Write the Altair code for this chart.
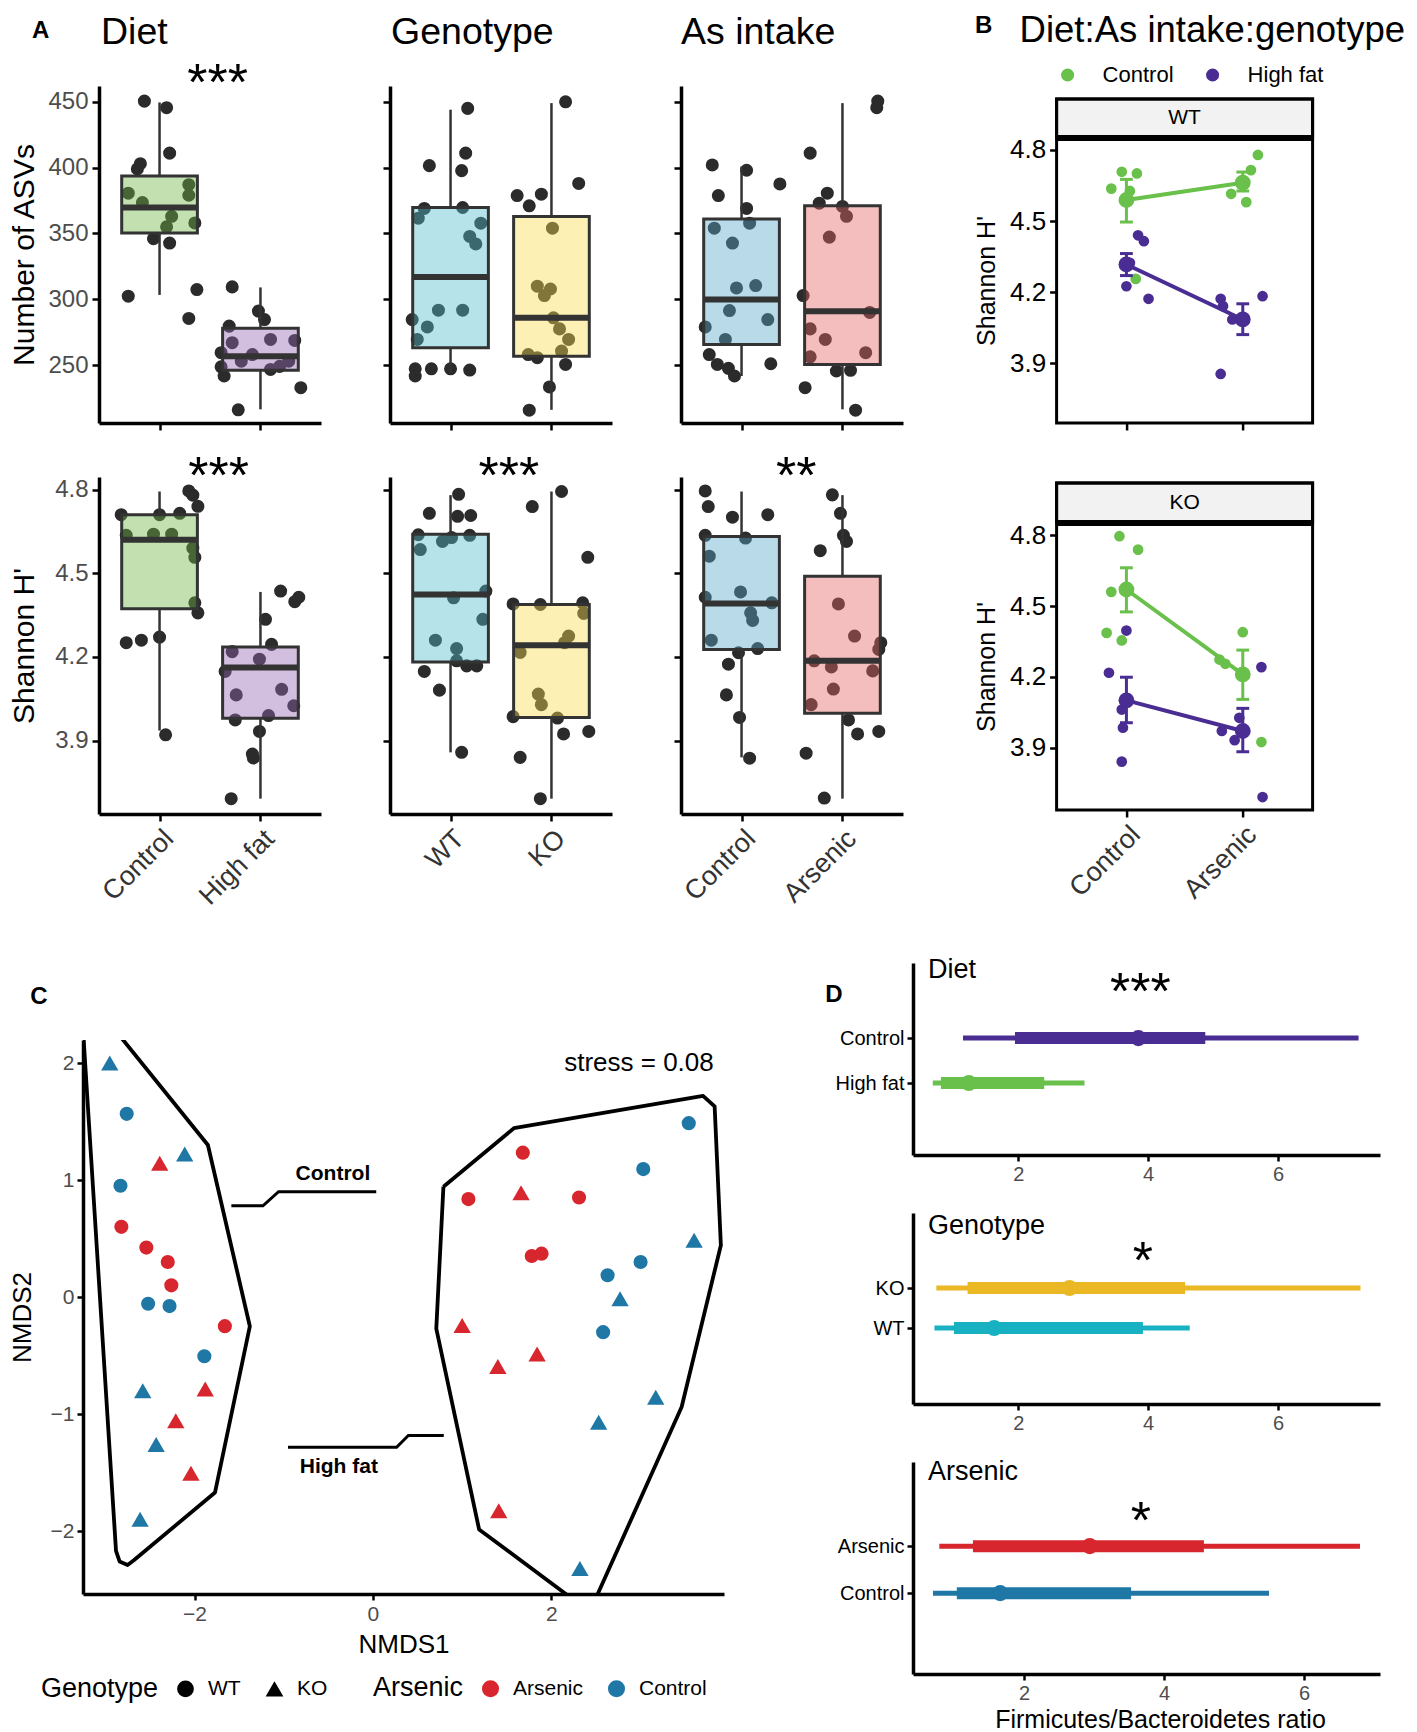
import altair as alt
import pandas as pd

FONT = "Liberation Sans"
GREY_TXT = "#4d4d4d"
DARK = "#333333"
PT_COL = "#2b2b2b"
GREEN = "#69c04a"
PURPLE = "#4a2d92"
RED = "#d7262d"
BLUE = "#1f77a6"
YELLOW = "#e9b824"
CYAN = "#17b1c1"

# ================= Panel A : Number of ASVs =================
asv_diet_ctrl_jit = [-0.15, 0.07, 0.10, -0.19, -0.22, -0.31, -0.17, 0.29, 0.29, 0.12, 0.07, 0.35, -0.06, 0.10, -0.31, 0.37, 0.29]
asv_diet_ctrl = [450.5, 445.5, 411, 403, 399, 380.6, 373.5, 387, 379, 363, 355, 358, 346, 342.7, 302.3, 307.4, 285.4]
asv_diet_hf_jit = [-0.28, -0.02, 0.04, -0.31, 0.10, 0.34, -0.28, -0.08, -0.39, -0.19, 0.10, -0.39, -0.36, 0.19, 0.40, -0.22, 0.28]
asv_diet_hf = [309.4, 291, 284.6, 279.6, 269.5, 268.7, 267, 258, 259.4, 253, 246.7, 248.7, 241.7, 249, 232.8, 216, 253]
asv_diet_box = [[350.3, 369.7, 393.7, 303.3, 449.5], [246.0, 256.8, 278.0, 216.4, 309.0]]  # q1, median, q3, low, high

asv_geno_wt_jit = [0.17, 0.15, -0.21, 0.11, -0.26, 0.12, -0.32, 0.30, 0.19, 0.25, -0.12, 0.12, -0.23, -0.38, -0.33, -0.35, -0.19, 0.00, 0.19, -0.35]
asv_geno_wt = [445, 411, 401.5, 397.7, 369, 369.7, 361.6, 357.8, 347.7, 342, 291.7, 291.7, 279, 284.6, 269.5, 247.2, 247.2, 247.2, 246.2, 241.7]
asv_geno_ko_jit = [0.14, 0.27, -0.34, -0.10, -0.22, 0.01, -0.14, -0.01, -0.07, 0.02, 0.08, 0.17, -0.23, 0.10, -0.14, 0.14, -0.02, -0.22]
asv_geno_ko = [450, 388, 378.8, 379.8, 371, 354, 309.9, 307.8, 302.8, 285.9, 277.5, 269.5, 258, 260.6, 255.6, 250.5, 233.4, 215.7]
asv_geno_box = [[263.1, 316.9, 369.7, 244.0, 444.0], [256.8, 285.9, 362.9, 216.0, 449.0]]

asv_as_ctrl_jit = [-0.29, 0.05, 0.38, -0.23, 0.05, 0.08, -0.27, -0.09, -0.05, 0.14, -0.12, 0.26, -0.36, -0.16, -0.32, -0.24, -0.13, -0.07, 0.29]
asv_as_ctrl = [402, 398, 387.6, 378.8, 369, 357.8, 354, 342.7, 308.6, 310.4, 291.4, 284.6, 279, 269.5, 258, 250.5, 247.5, 241.7, 251]
asv_as_ars_jit = [0.35, 0.34, -0.32, -0.15, -0.23, 0.00, 0.04, -0.13, -0.39, 0.27, -0.32, -0.17, 0.23, -0.32, -0.06, 0.08, -0.37, 0.13]
asv_as_ars = [450.5, 445.5, 411, 380.6, 373, 370.5, 363, 347.2, 302.8, 290, 277.5, 269.5, 259.4, 256.3, 245.5, 246, 232.8, 215.7]
asv_as_box = [[265.7, 299.8, 361.0, 241.7, 400.8], [250.5, 290.9, 371.0, 216.4, 449.0]]

# ================= Panel A : Shannon H' =================
sh_diet_ctrl_jit = [0.29, 0.33, 0.38, -0.38, 0.00, 0.20, -0.33, -0.06, 0.12, 0.33, 0.35, 0.35, 0.38, -0.33, -0.18, 0.00, 0.06]
sh_diet_ctrl = [4.795, 4.78, 4.74, 4.71, 4.71, 4.715, 4.636, 4.64, 4.64, 4.59, 4.557, 4.394, 4.358, 4.251, 4.26, 4.271, 3.921]
sh_diet_hf_jit = [0.20, 0.34, 0.38, 0.05, 0.11, -0.28, -0.01, -0.35, -0.24, 0.21, 0.33, -0.25, 0.08, -0.01, -0.08, -0.07, -0.29]
sh_diet_hf = [4.436, 4.398, 4.414, 4.335, 4.245, 4.219, 4.192, 4.148, 4.064, 4.084, 4.025, 3.974, 3.99, 3.933, 3.852, 3.838, 3.692]
sh_diet_box = [[4.373, 4.62, 4.71, 3.936, 4.793], [3.98, 4.162, 4.236, 3.692, 4.433]]

sh_geno_wt_jit = [0.08, -0.21, 0.07, 0.20, -0.32, -0.08, 0.01, 0.19, -0.30, 0.35, 0.03, 0.32, -0.15, 0.06, 0.06, 0.16, 0.26, -0.26, -0.11, 0.11]
sh_geno_wt = [4.783, 4.715, 4.704, 4.707, 4.638, 4.614, 4.628, 4.636, 4.585, 4.436, 4.412, 4.335, 4.26, 4.23, 4.186, 4.168, 4.168, 4.148, 4.081, 3.858]
sh_geno_ko_jit = [0.10, -0.19, 0.36, -0.38, -0.11, 0.31, 0.32, 0.17, 0.13, -0.31, -0.13, -0.10, -0.38, 0.06, 0.12, 0.37, -0.31, -0.11]
sh_geno_ko = [4.793, 4.739, 4.557, 4.39, 4.388, 4.394, 4.356, 4.275, 4.251, 4.216, 4.067, 4.029, 3.986, 3.981, 3.924, 3.933, 3.84, 3.692]
sh_geno_box = [[4.182, 4.424, 4.64, 3.858, 4.78], [3.983, 4.242, 4.388, 3.692, 4.793]]

sh_as_ctrl_jit = [-0.36, -0.33, -0.09, 0.26, -0.36, 0.04, -0.32, -0.36, -0.01, 0.30, 0.09, 0.11, -0.30, -0.03, 0.16, -0.13, -0.15, -0.02, 0.08]
sh_as_ctrl = [4.795, 4.739, 4.701, 4.71, 4.636, 4.626, 4.561, 4.414, 4.433, 4.394, 4.358, 4.331, 4.26, 4.215, 4.23, 4.174, 4.064, 3.983, 3.837]
sh_as_ars_jit = [-0.10, -0.02, 0.01, 0.04, -0.22, -0.04, 0.12, 0.38, 0.36, -0.28, -0.11, 0.30, -0.09, -0.31, 0.06, 0.15, 0.36, -0.36, -0.18]
sh_as_ars = [4.781, 4.715, 4.636, 4.614, 4.581, 4.39, 4.275, 4.251, 4.227, 4.186, 4.164, 4.15, 4.085, 4.029, 3.974, 3.924, 3.933, 3.855, 3.694]
sh_as_box = [[4.227, 4.392, 4.632, 3.84, 4.793], [3.998, 4.186, 4.489, 3.692, 4.78]]

# ================= Panel B =================
b_wt_diet = ["Control"] * 10 + ["High fat"] * 11
b_wt_cond = [1, 1, 1, 1, 1, 2, 2, 2, 2, 2, 1, 1, 1, 1, 1, 2, 2, 2, 2, 2, 2]
b_wt_jit = [-0.13, -0.04, 0.09, 0.03, 0.08, 0.13, 0.07, -0.10, 0.03, -0.01,
            0.10, 0.15, 0.00, 0.19, 0.03, -0.19, -0.17, 0.17, -0.09, 0.01, -0.19]
b_wt_val = [4.637, 4.708, 4.701, 4.627, 4.256, 4.779, 4.715, 4.615, 4.58, 4.662,
            4.44, 4.415, 4.225, 4.172, 4.324, 4.172, 4.141, 4.183, 4.085, 4.085, 3.855]
b_wt_mean_ctrl = [4.589, 4.662]
b_wt_lo_ctrl = [4.496, 4.627]
b_wt_hi_ctrl = [4.676, 4.707]
b_wt_mean_hf = [4.317, 4.085]
b_wt_lo_hf = [4.27, 4.021]
b_wt_hi_hf = [4.363, 4.151]

b_ko_diet = ["Control"] * 11 + ["High fat"] * 12
b_ko_cond = [1] * 6 + [2] * 5 + [1] * 6 + [2] * 6
b_ko_jit = [-0.06, 0.10, -0.13, 0.00, -0.17, -0.04, 0.00, -0.20, -0.15, 0.01, 0.16,
            0.00, -0.15, -0.04, 0.01, -0.03, -0.04, 0.16, -0.03, -0.18, 0.01, -0.07, 0.17]
b_ko_val = [4.796, 4.739, 4.56, 4.567, 4.386, 4.354, 4.389, 4.273, 4.255, 4.21, 3.923,
            4.396, 4.217, 4.061, 4.1, 3.984, 3.84, 4.241, 4.026, 3.97, 3.97, 3.931, 3.69]
b_ko_mean_ctrl = [4.57, 4.21]
b_ko_lo_ctrl = [4.475, 4.104]
b_ko_hi_ctrl = [4.662, 4.313]
b_ko_mean_hf = [4.1, 3.97]
b_ko_lo_hf = [4.005, 3.882]
b_ko_hi_hf = [4.198, 4.066]

# ================= Panel C (NMDS) =================
nmds1 = [-2.95, -2.76, -2.39, -2.11, -2.83, -2.82, -2.54, -2.30, -2.26, -2.52, -2.28, -1.66, -1.89, -2.58, -1.88,
         -2.21, -2.43, -2.04, -2.61,
         1.68, 3.54, 3.03, 1.07, 1.66, 2.31, 3.60, 1.78, 1.89, 3.00, 2.63, 2.77, 1.00, 2.58, 1.84, 1.40, 3.17,
         2.53, 1.41, 2.32]
nmds2 = [2.0, 1.566, 1.143, 1.223, 0.951, 0.6, 0.423, 0.3, 0.1, -0.057, -0.077, -0.249, -0.506, -0.8, -0.786,
         -1.057, -1.26, -1.507, -1.9,
         1.234, 1.486, 1.094, 0.837, 0.891, 0.851, 0.486, 0.351, 0.371, 0.3, 0.186, -0.014, -0.243, -0.3, -0.486,
         -0.594, -0.857, -1.071, -1.826, -2.32]
nmds_geno = ["KO", "WT", "KO", "KO", "WT", "WT", "WT", "WT", "WT", "WT", "WT", "WT", "WT", "KO", "KO",
             "KO", "KO", "KO", "KO",
             "WT", "WT", "WT", "WT", "KO", "WT", "KO", "WT", "WT", "WT", "WT", "KO", "KO", "WT", "KO", "KO", "KO",
             "KO", "KO", "KO"]
nmds_ars = ["Control", "Control", "Arsenic", "Control", "Control", "Arsenic", "Arsenic", "Arsenic", "Arsenic",
            "Control", "Control", "Arsenic", "Control", "Control", "Arsenic", "Arsenic", "Control", "Arsenic",
            "Control",
            "Arsenic", "Control", "Control", "Arsenic", "Arsenic", "Arsenic", "Control", "Arsenic", "Arsenic",
            "Control", "Control", "Control", "Arsenic", "Control", "Arsenic", "Arsenic", "Control", "Control",
            "Arsenic", "Control"]
hull_ctrl_x = [-3.28, -2.88, -2.84, -2.75, -2.68, -1.77, -1.38, -1.85, -3.28]
hull_ctrl_y = [2.65, -2.17, -2.26, -2.29, -2.25, -1.67, -0.25, 1.30, 2.65]
hull_hf_x = [0.79, 1.58, 3.70, 3.83, 3.90, 3.46, 2.43, 1.19, 0.71, 0.79]
hull_hf_y = [0.943, 1.443, 1.72, 1.63, 0.443, -0.94, -2.69, -1.986, -0.27, 0.943]
conn_ctrl_x = [-1.587, -1.233, -1.058, 0.037]
conn_ctrl_y = [0.78, 0.78, 0.90, 0.90]
conn_hf_x = [-0.952, 0.265, 0.397, 0.794]
conn_hf_y = [-1.284, -1.284, -1.183, -1.183]

# ================= Panel D (F/B ratio) =================
d_diet_labels = ["Control", "High fat"]
d_diet_thin = [[1.15, 7.24], [0.685, 3.02]]
d_diet_thick = [[1.95, 4.88], [0.81, 2.40]]
d_diet_point = [3.85, 1.24]
d_geno_labels = ["KO", "WT"]
d_geno_thin = [[0.74, 7.27], [0.71, 4.64]]
d_geno_thick = [[1.22, 4.57], [1.01, 3.92]]
d_geno_point = [2.79, 1.63]
d_ars_labels = ["Arsenic", "Control"]
d_ars_thin = [[0.79, 6.80], [0.70, 5.50]]
d_ars_thick = [[1.27, 4.57], [1.04, 3.53]]
d_ars_point = [2.94, 1.66]

# ----------------------------------------------------------------
AX = dict(domainColor="black", domainWidth=3.5, tickColor="black", tickWidth=2.5, grid=False)
BW = 0.375
A_W, A_H = 222, 337
STAR = 52
TITLE = 37.5


def sc(dom):
    return alt.Scale(domain=dom, nice=False, zero=False)


def text_layers(texts, X, Y):
    out = []
    for t in texts:
        df = pd.DataFrame({"x": [t[0]], "y": [t[1]], "t": [t[2]]})
        kw = dict(fontSize=t[3], align=t[4], baseline=t[5], color="black")
        if len(t) > 6 and t[6]:
            kw["fontWeight"] = "bold"
        out.append(alt.Chart(df).mark_text(**kw).encode(x=X("x"), y=Y("y"), text="t:N"))
    return out


def xlab_axis(xlabels, **extra):
    kw = dict(values=[1, 2], title=None, tickSize=7, **extra)
    if xlabels:
        kw.update(labelExpr="datum.value == 1 ? '%s' : '%s'" % tuple(xlabels), labelAngle=315,
                  labelAlign="right", labelBaseline="top", labelFontSize=27, labelColor=DARK, labelPadding=4)
    else:
        kw["labels"] = False
    return kw


def dummy():
    return alt.Chart(pd.DataFrame({"v": [0]})).mark_rect(opacity=0).encode(
        x=alt.value(0), x2=alt.value(1), y=alt.value(0), y2=alt.value(1)).properties(width=1, height=1)


def a_panel(j1, v1, j2, v2, box, fills, ydom, yvals, ytitle, xlabels, texts):
    xkw = xlab_axis(xlabels, **AX)
    ykw = dict(values=yvals, tickSize=7, **AX)
    if ytitle:
        ykw.update(title=ytitle, titleFontSize=30, titleFontWeight="normal", titleColor="black", titleAngle=270,
                   titleX=-75, titleY=A_H / 2, titleAlign="center", titleBaseline="middle",
                   labelFontSize=24, labelColor=GREY_TXT, labelPadding=4)
    else:
        ykw.update(title=None, labels=False)
    xs, ys = sc([0.4, 2.6]), sc(ydom)

    def X(f):
        return alt.X(f + ":Q", scale=xs, axis=alt.Axis(**xkw))

    def Y(f):
        return alt.Y(f + ":Q", scale=ys, axis=alt.Axis(**ykw))

    pts = pd.DataFrame({"x": [1 + j for j in j1] + [2 + j for j in j2], "y": list(v1) + list(v2)})
    bx = pd.DataFrame({"xc": [1, 2], "xl": [1 - BW, 2 - BW], "xr": [1 + BW, 2 + BW],
                       "q1": [b[0] for b in box], "med": [b[1] for b in box], "q3": [b[2] for b in box],
                       "lo": [b[3] for b in box], "hi": [b[4] for b in box], "fill": fills})
    layers = [
        alt.Chart(pts).mark_circle(size=170, color=PT_COL, opacity=1).encode(x=X("x"), y=Y("y")),
        alt.Chart(bx).mark_rule(color=DARK, strokeWidth=2.5).encode(x=X("xc"), y=Y("lo"), y2=alt.Y2("q1")),
        alt.Chart(bx).mark_rule(color=DARK, strokeWidth=2.5).encode(x=X("xc"), y=Y("q3"), y2=alt.Y2("hi")),
        alt.Chart(bx).mark_rect(fillOpacity=0.42, stroke=DARK, strokeWidth=3).encode(
            x=X("xl"), x2=alt.X2("xr"), y=Y("q1"), y2=alt.Y2("q3"), fill=alt.Fill("fill:N", scale=None)),
        alt.Chart(bx).mark_rule(color=DARK, strokeWidth=6).encode(x=X("xl"), x2=alt.X2("xr"), y=Y("med")),
    ]
    layers += text_layers(texts, X, Y)
    return alt.layer(*layers).properties(width=A_W, height=A_H)


# ---- panel A charts ----
A1 = a_panel(asv_diet_ctrl_jit, asv_diet_ctrl, asv_diet_hf_jit, asv_diet_hf, asv_diet_box,
             ["#70b646", "#9464b2"], [206, 462], [250, 300, 350, 400, 450], "Number of ASVs", None,
             [(-0.177, 503.8, "A", 24, "center", "middle", True),
              (0.42, 493.9, "Diet", TITLE, "left", "alphabetic"),
              (1.575, 451.5, "***", STAR, "center", "alphabetic")])
A2 = a_panel(asv_geno_wt_jit, asv_geno_wt, asv_geno_ko_jit, asv_geno_ko, asv_geno_box,
             ["#50bbca", "#fadc4e"], [206, 462], [250, 300, 350, 400, 450], None, None,
             [(0.41, 493.9, "Genotype", TITLE, "left", "alphabetic")])
A3 = a_panel(asv_as_ctrl_jit, asv_as_ctrl, asv_as_ars_jit, asv_as_ars, asv_as_box,
             ["#58a8ca", "#e66464"], [206, 462], [250, 300, 350, 400, 450], None, None,
             [(0.40, 493.9, "As intake", TITLE, "left", "alphabetic")])
SH_DOM = [3.637, 4.845]
SH_T = [3.9, 4.2, 4.5, 4.8]
A4 = a_panel(sh_diet_ctrl_jit, sh_diet_ctrl, sh_diet_hf_jit, sh_diet_hf, sh_diet_box,
             ["#70b646", "#9464b2"], SH_DOM, SH_T, "Shannon H'", ["Control", "High fat"],
             [(1.585, 4.786, "***", STAR, "center", "alphabetic")])
A5 = a_panel(sh_geno_wt_jit, sh_geno_wt, sh_geno_ko_jit, sh_geno_ko, sh_geno_box,
             ["#50bbca", "#fadc4e"], SH_DOM, SH_T, None, ["WT", "KO"],
             [(1.578, 4.786, "***", STAR, "center", "alphabetic")])
A6 = a_panel(sh_as_ctrl_jit, sh_as_ctrl, sh_as_ars_jit, sh_as_ars, sh_as_box,
             ["#58a8ca", "#e66464"], SH_DOM, SH_T, None, ["Control", "Arsenic"],
             [(1.543, 4.786, "**", STAR, "center", "alphabetic")])

# ---- panel B ----
B_W = 256


def b_panel(diet, cond, jit, vals, mc, lc, hc, mh, lh, hh, ydom, strip_lo, strip_hi, strip_lab, xlabels,
            legend, texts, height, title_y):
    xs, ys = sc([0.4, 2.6]), sc(ydom)
    xkw = xlab_axis(xlabels, domain=False, tickColor="black", tickWidth=2.5, grid=False)
    ykw = dict(values=[3.9, 4.2, 4.5, 4.8], tickSize=7, domain=False, tickColor="black", tickWidth=2.5,
               grid=False, title="Shannon H'", titleFontSize=25, titleFontWeight="normal", titleColor="black",
               titleAngle=270, titleX=-70, titleY=title_y, titleAlign="center", titleBaseline="middle",
               labelFontSize=26, labelColor="black", labelPadding=4)

    def X(f):
        return alt.X(f + ":Q", scale=xs, axis=alt.Axis(**xkw))

    def Y(f):
        return alt.Y(f + ":Q", scale=ys, axis=alt.Axis(**ykw))

    cscale = alt.Scale(domain=["Control", "High fat"], range=[GREEN, PURPLE])

    def C(leg=None):
        return alt.Color("diet:N", scale=cscale, legend=leg)

    pts = pd.DataFrame({"diet": diet, "x": [c + j for c, j in zip(cond, jit)], "y": vals})
    md = pd.DataFrame({"diet": ["Control", "Control", "High fat", "High fat"], "x": [1, 2, 1, 2],
                       "m": mc + mh, "lo": lc + lh, "hi": hc + hh})
    md["xl"] = md["x"] - 0.055
    md["xr"] = md["x"] + 0.055
    frame = pd.DataFrame({"x": [0.4], "x2": [2.6], "y": [ydom[0]], "y2": [strip_hi], "s": [strip_lo]})
    layers = [
        alt.Chart(frame).mark_rect(fill="#f2f2f2", stroke="black", strokeWidth=3).encode(
            x=X("x"), x2=alt.X2("x2"), y=Y("s"), y2=alt.Y2("y2")),
        alt.Chart(pts).mark_circle(size=115, opacity=1).encode(x=X("x"), y=Y("y"), color=C(legend)),
        alt.Chart(md).mark_rule(strokeWidth=3).encode(x=X("x"), y=Y("lo"), y2=alt.Y2("hi"), color=C()),
        alt.Chart(md).mark_rule(strokeWidth=3).encode(x=X("xl"), x2=alt.X2("xr"), y=Y("lo"), color=C()),
        alt.Chart(md).mark_rule(strokeWidth=3).encode(x=X("xl"), x2=alt.X2("xr"), y=Y("hi"), color=C()),
        alt.Chart(md).mark_line(strokeWidth=4).encode(x=X("x"), y=Y("m"), color=C()),
        alt.Chart(md).mark_circle(size=250, opacity=1).encode(x=X("x"), y=Y("m"), color=C()),
        alt.Chart(frame).mark_rect(fillOpacity=0, stroke="black", strokeWidth=3).encode(
            x=X("x"), x2=alt.X2("x2"), y=Y("y"), y2=alt.Y2("y2")),
        alt.Chart(frame).mark_rule(color="black", strokeWidth=6).encode(x=X("x"), x2=alt.X2("x2"), y=Y("s")),
    ]
    layers += text_layers([(1.5, (strip_lo + strip_hi) / 2, strip_lab, 21, "center", "middle")] + texts, X, Y)
    return alt.layer(*layers).properties(width=B_W, height=height)


b_legend = alt.Legend(orient="none", legendX=0, legendY=-22, direction="horizontal", title=None,
                      labelFontSize=22, labelColor="black", symbolType="circle", symbolSize=170,
                      symbolStrokeWidth=0, labelOffset=24, columnPadding=28, padding=0)
BWT = b_panel(b_wt_diet, b_wt_cond, b_wt_jit, b_wt_val, b_wt_mean_ctrl, b_wt_lo_ctrl, b_wt_hi_ctrl,
              b_wt_mean_hf, b_wt_lo_hf, b_wt_hi_hf, [3.648, 5.070], 4.851, 5.015, "WT", None, b_legend,
              [(-0.227, 5.323, "B", 24, "center", "middle", True),
               (0.082, 5.256, "Diet:As intake:genotype", 36.5, "left", "alphabetic")],
              337, 194.5)
BKO = b_panel(b_ko_diet, b_ko_cond, b_ko_jit, b_ko_val, b_ko_mean_ctrl, b_ko_lo_ctrl, b_ko_hi_ctrl,
              b_ko_mean_hf, b_ko_lo_hf, b_ko_hi_hf, [3.635, 5.047], 4.852, 5.022, "KO", ["Control", "Arsenic"],
              None, [], 333, 189.5)

# ---- panel C ----
C_W, C_H = 641, 554
cxs, cys = sc([-3.25, 3.935]), sc([-2.538, 2.197])
cxkw = dict(values=[-2, 0, 2], tickSize=6, labelFontSize=21, labelColor=GREY_TXT, labelPadding=3,
            title="NMDS1", titleFontSize=26, titleFontWeight="normal", titleColor="black",
            titleY=50, titleBaseline="middle", **AX)
cykw = dict(values=[-2, -1, 0, 1, 2], tickSize=6, labelFontSize=21, labelColor=GREY_TXT, labelPadding=3,
            title="NMDS2", titleFontSize=26, titleFontWeight="normal", titleColor="black", titleAngle=270,
            titleX=-61, titleY=C_H / 2, titleAlign="center", titleBaseline="middle", **AX)


def CX(f):
    return alt.X(f + ":Q", scale=cxs, axis=alt.Axis(**cxkw))


def CY(f):
    return alt.Y(f + ":Q", scale=cys, axis=alt.Axis(**cykw))


nm = pd.DataFrame({"x": nmds1, "y": nmds2, "geno": nmds_geno, "ars": nmds_ars})
hull = pd.DataFrame({"grp": ["c"] * len(hull_ctrl_x) + ["h"] * len(hull_hf_x),
                     "o": list(range(len(hull_ctrl_x))) + list(range(len(hull_hf_x))),
                     "x": hull_ctrl_x + hull_hf_x, "y": hull_ctrl_y + hull_hf_y})
conn = pd.DataFrame({"grp": ["c"] * 4 + ["h"] * 4, "o": [0, 1, 2, 3] * 2,
                     "x": conn_ctrl_x + conn_hf_x, "y": conn_ctrl_y + conn_hf_y})
shape_leg = alt.Legend(orient="none", legendX=-42, legendY=638, direction="horizontal", title="Genotype",
                       titleOrient="left", titleFontSize=27, titleFontWeight="normal", titleColor="black",
                       titlePadding=16, labelFontSize=21, labelColor="black", symbolSize=230,
                       symbolFillColor="black", symbolStrokeColor="black", labelOffset=12, columnPadding=22,
                       padding=0)
color_leg = alt.Legend(orient="none", legendX=290, legendY=638, direction="horizontal", title="Arsenic",
                       titleOrient="left", titleFontSize=27, titleFontWeight="normal", titleColor="black",
                       titlePadding=16, labelFontSize=21, labelColor="black", symbolSize=290,
                       symbolType="circle", symbolStrokeWidth=0, labelOffset=12, columnPadding=22, padding=0)
shape_enc = alt.Shape("geno:N", scale=alt.Scale(domain=["WT", "KO"], range=["circle", "triangle-up"]),
                      legend=shape_leg)
color_enc = alt.Color("ars:N", scale=alt.Scale(domain=["Arsenic", "Control"], range=[RED, BLUE]),
                      legend=color_leg)
C_layers = [
    alt.Chart(hull).mark_line(clip=True, color="black", strokeWidth=3.8, strokeJoin="round").encode(
        x=CX("x"), y=CY("y"), detail="grp:N", order="o:Q"),
    alt.Chart(conn).mark_line(color="black", strokeWidth=3).encode(
        x=CX("x"), y=CY("y"), detail="grp:N", order="o:Q"),
    alt.Chart(nm).transform_filter("datum.geno == 'WT'").mark_point(filled=True, size=200, opacity=1).encode(
        x=CX("x"), y=CY("y"), shape=shape_enc, color=color_enc),
    alt.Chart(nm).transform_filter("datum.geno == 'KO'").mark_point(filled=True, size=300, opacity=1).encode(
        x=CX("x"), y=CY("y"), shape=shape_enc, color=color_enc),
]
C_layers += text_layers([
    (-3.743, 2.565, "C", 24, "center", "middle", True),
    (3.82, 2.0, "stress = 0.08", 26, "right", "middle"),
    (-0.03, 1.05, "Control", 21, "right", "middle", True),
    (-0.82, -1.449, "High fat", 21, "left", "middle", True),
], CX, CY)
CHART_C = alt.layer(*C_layers).properties(width=C_W, height=C_H)

# ---- panel D ----
D_W = 467


def d_panel(labels, thin, thick, point, colors, xdom, ydom, height, texts, xtitle=None):
    xs, ys = sc(xdom), sc(ydom)
    xkw = dict(values=[2, 4, 6], tickSize=6, labelFontSize=20, labelColor=GREY_TXT, labelPadding=3, **AX)
    if xtitle:
        xkw.update(title=xtitle, titleFontSize=25, titleFontWeight="normal", titleColor="black",
                   titleX=247, titleY=45, titleAlign="center", titleBaseline="middle")
    else:
        xkw["title"] = None
    ykw = dict(values=[1, 2], tickSize=6, labelFontSize=20, labelColor="black", labelPadding=3, title=None,
               labelExpr="datum.value == 2 ? '%s' : '%s'" % (labels[0], labels[1]), **AX)

    def X(f):
        return alt.X(f + ":Q", scale=xs, axis=alt.Axis(**xkw))

    def Y(f):
        return alt.Y(f + ":Q", scale=ys, axis=alt.Axis(**ykw))

    df = pd.DataFrame({"pos": [2, 1], "tl": [t[0] for t in thin], "th": [t[1] for t in thin],
                       "kl": [t[0] for t in thick], "kh": [t[1] for t in thick], "p": point, "col": colors})
    col = alt.Color("col:N", scale=None)
    layers = [
        alt.Chart(df).mark_rule(strokeWidth=5, strokeCap="butt").encode(
            x=X("tl"), x2=alt.X2("th"), y=Y("pos"), color=col),
        alt.Chart(df).mark_rule(strokeWidth=12, strokeCap="butt").encode(
            x=X("kl"), x2=alt.X2("kh"), y=Y("pos"), color=col),
        alt.Chart(df).mark_circle(size=260, opacity=1).encode(x=X("p"), y=Y("pos"), color=col),
    ]
    layers += text_layers(texts, X, Y)
    return alt.layer(*layers).properties(width=D_W, height=height)


D1 = d_panel(d_diet_labels, d_diet_thin, d_diet_thick, d_diet_point, [PURPLE, GREEN],
             [0.38, 7.57], [-0.6, 3.67], 192,
             [(0.61, 3.80, "Diet", 27, "left", "top"),
              (3.88, 2.651, "***", STAR, "center", "alphabetic"),
              (-0.836, 2.96, "D", 24, "center", "middle", True)])
D2 = d_panel(d_geno_labels, d_geno_thin, d_geno_thick, d_geno_point, [YELLOW, CYAN],
             [0.38, 7.57], [-0.9, 3.875], 191,
             [(0.61, 3.875, "Genotype", 27, "left", "top"),
              (3.92, 2.255, "*", STAR, "center", "alphabetic")])
D3 = d_panel(d_ars_labels, d_ars_thin, d_ars_thick, d_ars_point, [RED, BLUE],
             [0.414, 7.086], [-0.72, 3.79], 212,
             [(0.628, 3.854, "Arsenic", 27, "left", "top"),
              (3.67, 2.177, "*", STAR, "center", "alphabetic")],
             xtitle="Firmicutes/Bacteroidetes ratio")


def indep(ch):
    return ch.resolve_scale(color="independent", shape="independent").resolve_legend(
        color="independent", shape="independent")


rowA1 = indep(alt.hconcat(A1, A2, A3, spacing=59))
row1 = indep(alt.hconcat(rowA1, BWT, spacing=69.6))
rowA2 = indep(alt.hconcat(A4, A5, A6, spacing=59))
row2 = indep(alt.hconcat(rowA2, BKO, spacing=69.6))
topinner = indep(alt.vconcat(row1, row2, spacing=18))
topwrap = indep(alt.hconcat(dummy(), topinner, spacing=-77))
cwrap = indep(alt.vconcat(dummy(), CHART_C, spacing=19))
dcol = indep(alt.vconcat(D1, D2, D3, spacing=58, bounds="flush"))
row3 = indep(alt.hconcat(cwrap, dcol, spacing=99))
chart = indep(alt.vconcat(topwrap, row3, spacing=45)).properties(
    padding={"left": 0, "top": 4, "right": 0, "bottom": 0})
chart = chart.configure(font=FONT).configure_view(stroke="transparent").configure_axis(
    labelFont=FONT, titleFont=FONT).configure_legend(labelFont=FONT, titleFont=FONT).configure_text(font=FONT)

chart.save("out.html", embed_options={"renderer": "svg", "actions": False})
